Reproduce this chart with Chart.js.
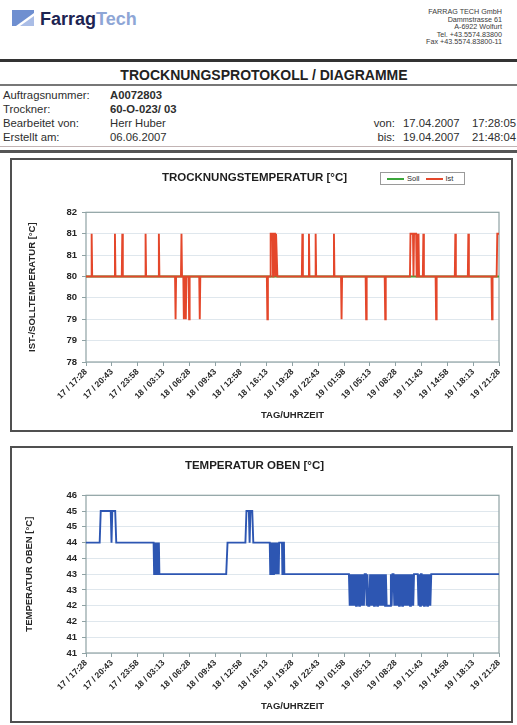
<!DOCTYPE html>
<html>
<head>
<meta charset="utf-8">
<script src="https://cdn.jsdelivr.net/npm/chart.js@4.4.1/dist/chart.umd.min.js"></script>
<style>
  body { margin: 0; background: #fff; font-family: "Liberation Sans", Arial, sans-serif; color: #2e2e2e; }
  #page { position: relative; width: 517px; height: 725px; overflow: hidden; background: #fff; }
  .abs { position: absolute; white-space: nowrap; }
  .rule { position: absolute; left: 0; width: 517px; }
  .row { font-size: 11.3px; line-height: 14px; }
  .box { position: absolute; border: 2px solid #505050; box-sizing: border-box; pointer-events: none; }
  #legend1 { position: absolute; left: 380px; top: 172px; width: 85px; height: 13px; border: 1px solid #9a9a9a;
             box-sizing: border-box; display: flex; align-items: center; font-size: 7.5px; background: #fff; }
  #legend1 .item { display: flex; align-items: center; margin-left: 6px; }
  #legend1 .swatch { width: 17px; height: 2px; margin-right: 3px; }
</style>
</head>
<body>
<div id="page">
  <!-- header -->
  <svg class="abs" style="left:12px;top:10px" width="22" height="16">
    <polygon points="0,0 22,0 22,3 4,16 0,16" fill="#6f8fd0"/>
    <polygon points="8,16 22,6 22,16" fill="#aabde6"/>
  </svg>
  <div class="abs" style="left:40px;top:10px;font-size:18px;line-height:18px;font-weight:bold">
    <span style="color:#1d2452">Farrag</span><span style="color:#8ea6d6">Tech</span>
  </div>
  <div class="abs" style="right:15px;top:8px;font-size:7.2px;line-height:7.5px;text-align:right;color:#3a3a3a">
    FARRAG TECH GmbH<br>Dammstrasse 61<br>A-6922 Wolfurt<br>Tel. +43.5574.83800<br>Fax +43.5574.83800-11
  </div>

  <div class="rule" style="top:59px;height:3px;background:#333"></div>
  <div class="abs" style="left:11px;width:506px;top:68px;font-size:14px;line-height:14px;font-weight:bold;text-align:center;color:#222">TROCKNUNGSPROTOKOLL / DIAGRAMME</div>
  <div class="rule" style="top:84px;height:2px;background:#777"></div>

  <div class="abs row" style="left:3px;top:88px">Auftragsnummer:<br>Trockner:<br>Bearbeitet von:<br>Erstellt am:</div>
  <div class="abs row" style="left:110px;top:88px"><b>A0072803</b><br><b>60-O-023/ 03</b><br>Herr Huber<br>06.06.2007</div>
  <div class="abs row" style="right:122px;top:116px;text-align:right">von:<br>bis:</div>
  <div class="abs row" style="left:403px;top:116px">17.04.2007<br>19.04.2007</div>
  <div class="abs row" style="left:472px;top:116px">17:28:05<br>21:48:04</div>

  <div class="rule" style="top:146px;height:1px;background:#c2b4b4"></div>
  <div class="rule" style="top:150px;height:3px;background:#555"></div>

  <!-- charts -->
  <canvas id="istChart" class="abs" style="left:10px;top:158px" width="503" height="274"></canvas>
  <div class="box" style="left:10px;top:158px;width:503px;height:274px"></div>
  <div id="legend1"></div>

  <canvas id="obenChart" class="abs" style="left:10px;top:446px" width="503" height="277"></canvas>
  <div class="box" style="left:10px;top:446px;width:503px;height:277px"></div>
</div>

<script>
// x axis: minutes since 17.04. 17:28, one tick label every 3h15
const xTickLabels = [
    '17 / 17:28', '17 / 20:43', '17 / 23:58', '18 / 03:13', '18 / 06:28', '18 / 09:43',
    '18 / 12:58', '18 / 16:13', '18 / 19:28', '18 / 22:43', '19 / 01:58', '19 / 05:13',
    '19 / 08:28', '19 / 11:43', '19 / 14:58', '19 / 18:13', '19 / 21:28'
];
const X_STEP = 195;
const X_MAX = 3140;

// y tick labels as printed (values rounded to whole degrees)
const istYTickLabels = ['78', '79', '79', '80', '80', '81', '81', '82'];
const obenYTickLabels = ['41', '41', '42', '42', '43', '43', '44', '44', '45', '45', '46'];

// [minute, °C]
const sollSeries = [[0, 80], [3140, 80]];

const istSeries = [
    [0, 80], [39, 80], [43, 81], [47, 80], [216, 80], [220, 81], [224, 80], [272, 80], [276, 81], [280, 80],
    [449, 80], [453, 81], [457, 80], [550, 80], [554, 81], [558, 80], [677, 80], [681, 79], [685, 80],
    [722, 80], [726, 81], [730, 80], [740, 80], [744, 79], [748, 80], [755, 80], [759, 79], [763, 80],
    [780, 80], [784, 79], [788, 80], [861, 80], [865, 79], [869, 80], [1375, 80], [1379, 79], [1383, 80],
    [1400, 80], [1404, 81], [1418, 81], [1422, 80], [1426, 81], [1437, 81], [1441, 80], [1445, 81], [1451, 81], [1455, 80],
    [1641, 80], [1645, 81], [1649, 80], [1691, 80], [1695, 81], [1699, 80], [1742, 80], [1746, 81], [1750, 80],
    [1881, 80], [1885, 81], [1889, 80], [1939, 80], [1943, 79], [1947, 80], [2126, 80], [2130, 79], [2134, 80],
    [2271, 80], [2275, 79], [2279, 80],
    [2463, 80], [2467, 81], [2486, 81], [2490, 80], [2494, 81], [2510, 81], [2514, 80], [2524, 80], [2528, 81], [2532, 80],
    [2561, 80], [2565, 81], [2569, 80], [2658, 80], [2662, 79], [2666, 80], [2804, 80], [2808, 81], [2812, 80],
    [2903, 80], [2907, 81], [2911, 80], [3083, 80], [3087, 79], [3091, 80], [3122, 80], [3127, 81], [3140, 81]
];

const obenSeries = [
    [0, 44], [104, 44], [112, 45], [188, 45], [194, 44], [200, 45], [222, 45], [230, 44],
    [514, 44], [518, 43], [522, 44], [526, 43], [530, 44], [534, 43], [538, 44], [542, 43], [546, 44],
    [550, 43], [554, 44], [558, 43],
    [1066, 43], [1076, 44], [1212, 44], [1220, 45], [1238, 45], [1244, 44], [1250, 45], [1264, 45], [1272, 44],
    [1397, 44], [1401, 43], [1405, 44], [1409, 43], [1413, 44], [1417, 43], [1421, 44], [1425, 43], [1429, 44],
    [1433, 43], [1437, 44], [1441, 43], [1445, 44], [1449, 43], [1453, 44], [1457, 43], [1461, 44], [1465, 43],
    [1469, 44], [1490, 44], [1493, 43], [1496, 44], [1505, 44], [1508, 43],
    [1999, 43], [2005, 42], [2011, 43], [2017, 42], [2023, 43], [2029, 42], [2035, 43], [2041, 42], [2047, 43],
    [2053, 42], [2059, 43], [2065, 42], [2071, 43], [2077, 42], [2083, 43], [2089, 42], [2095, 43], [2101, 42],
    [2107, 43], [2113, 42], [2119, 43], [2128, 43], [2134, 42], [2140, 43], [2146, 42], [2154, 42], [2160, 43],
    [2166, 42], [2172, 43], [2178, 42], [2184, 43], [2190, 42], [2196, 43], [2202, 42], [2208, 43], [2214, 42],
    [2220, 43], [2226, 42], [2232, 43], [2238, 42], [2244, 43], [2250, 42], [2256, 43], [2262, 42], [2268, 43],
    [2274, 42], [2280, 43], [2286, 42], [2312, 42], [2318, 43], [2324, 42], [2330, 43], [2338, 43], [2344, 42],
    [2350, 43], [2356, 42], [2362, 43], [2368, 42], [2374, 43], [2380, 42], [2386, 43], [2392, 42], [2398, 43],
    [2404, 42], [2410, 43], [2416, 42], [2422, 43], [2428, 42], [2434, 43], [2440, 42], [2446, 43], [2452, 42],
    [2458, 43], [2464, 42], [2470, 43], [2476, 42], [2482, 43], [2488, 42], [2494, 43], [2522, 43], [2528, 42],
    [2534, 43], [2540, 42], [2546, 43], [2552, 43], [2558, 42], [2564, 43], [2570, 42], [2576, 43], [2582, 42],
    [2588, 43], [2594, 42], [2600, 43], [2606, 42], [2612, 43], [2618, 42], [2625, 43], [3140, 43]
];

const FONT = '"Liberation Sans", Arial, sans-serif';
const TEXT = '#262626';

function toPoints(pairs) {
    return pairs.map(p => ({ x: p[0], y: p[1] }));
}

// grey frame around the plot area
const plotFrame = {
    id: 'plotFrame',
    beforeDatasetsDraw(chart) {
        const { ctx, chartArea: a } = chart;
        ctx.save();
        ctx.strokeStyle = '#8fa2a4';
        ctx.lineWidth = 1.2;
        ctx.strokeRect(a.left, a.top, a.right - a.left, a.bottom - a.top);
        ctx.restore();
    }
};

function timeAxis() {
    return {
        type: 'linear',
        min: 0,
        max: X_MAX,
        afterFit: s => { s.height = 62; },
        border: { display: false },
        grid: { drawOnChartArea: false, tickLength: 4, color: '#8fa2a4' },
        ticks: {
            stepSize: X_STEP,
            includeBounds: false,
            autoSkip: false,
            minRotation: 45,
            maxRotation: 45,
            padding: 1,
            color: TEXT,
            font: { family: FONT, size: 8.5, weight: 'bold' },
            callback: v => xTickLabels[Math.round(v / X_STEP)]
        },
        title: {
            display: true,
            text: 'TAG/UHRZEIT',
            color: TEXT,
            font: { family: FONT, size: 9.5, weight: 'bold' },
            padding: { top: 0, bottom: 3 }
        }
    };
}

function valueAxis(min, max, labels, text, titlePad) {
    return {
        min: min,
        max: max,
        afterFit: s => { s.width = 76; },
        border: { display: false },
        grid: { color: 'rgba(150,175,195,0.3)', tickLength: 4, tickColor: '#8fa2a4' },
        ticks: {
            stepSize: 0.5,
            padding: 5,
            color: TEXT,
            font: { family: FONT, size: 9.5, weight: 'bold' },
            callback: v => labels[Math.round((v - min) / 0.5)]
        },
        title: {
            display: true,
            text: text,
            color: TEXT,
            font: { family: FONT, size: 9.5, weight: 'bold' },
            padding: { top: titlePad, bottom: 0 }
        }
    };
}

function chartTitle(text, bottomPad) {
    return {
        display: true,
        text: text,
        color: '#1e1e1e',
        font: { family: FONT, size: 11.5, weight: 'bold' },
        padding: { top: 13, bottom: bottomPad }
    };
}

// Trocknungstemperatur (Soll / Ist)
const istChart = new Chart(document.getElementById('istChart'), {
    type: 'line',
    data: {
        datasets: [{
            label: 'Soll',
            data: toPoints(sollSeries),
            borderColor: '#3aa63a',
            borderWidth: 2,
            pointRadius: 0,
            order: 1
        }, {
            label: 'Ist',
            data: toPoints(istSeries),
            borderColor: '#e4472b',
            borderWidth: 1.9,
            pointRadius: 0,
            order: 0
        }]
    },
    options: {
        responsive: false,
        animation: false,
        layout: { padding: { left: 0, right: 14, top: 0, bottom: 8 } },
        scales: {
            x: timeAxis(),
            y: valueAxis(78, 81.5, istYTickLabels, 'IST-/SOLLTEMPERATUR [°C]', 16.5)
        },
        plugins: {
            legend: { display: false },
            tooltip: { enabled: false },
            title: chartTitle('TROCKNUNGSTEMPERATUR [°C]', 27.5)
        }
    },
    plugins: [plotFrame]
});

// Temperatur oben
new Chart(document.getElementById('obenChart'), {
    type: 'line',
    data: {
        datasets: [{
            label: 'Temperatur oben',
            data: toPoints(obenSeries),
            borderColor: '#2d56b2',
            borderWidth: 1.9,
            pointRadius: 0
        }]
    },
    options: {
        responsive: false,
        animation: false,
        layout: { padding: { left: 0, right: 14, top: 0, bottom: 8 } },
        scales: {
            x: timeAxis(),
            y: valueAxis(40.5, 45.5, obenYTickLabels, 'TEMPERATUR OBEN [°C]', 13.5)
        },
        plugins: {
            legend: { display: false },
            tooltip: { enabled: false },
            title: chartTitle('TEMPERATUR OBEN [°C]', 22.5)
        }
    },
    plugins: [plotFrame]
});

// small boxed legend for the first chart, built from its datasets
const legendBox = document.getElementById('legend1');
istChart.data.datasets.forEach(ds => {
    const item = document.createElement('div');
    item.className = 'item';
    item.innerHTML = '<span class="swatch" style="background:' + ds.borderColor + '"></span>' + ds.label;
    legendBox.appendChild(item);
});
</script>
</body>
</html>
